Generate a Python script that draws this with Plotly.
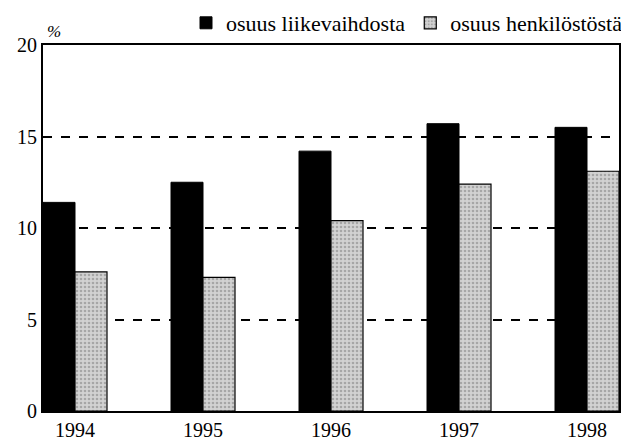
import plotly.graph_objects as go

years = ["1994", "1995", "1996", "1997", "1998"]
liikevaihto = [11.4, 12.5, 14.2, 15.7, 15.5]
henkilosto = [7.6, 7.3, 10.4, 12.4, 13.1]
y_ticks = [0, 5, 10, 15, 20]

SERIF = "Liberation Serif"
font = dict(family=SERIF, size=20, color="black")

# page body has an 8px margin; figure sized to fill the rest of the window
W, H = 621, 432

fig = go.Figure()
fig.add_trace(go.Bar(
    x=years, y=liikevaihto, name="osuus liikevaihdosta",
    marker=dict(color="black", line=dict(color="black", width=1)),
))
fig.add_trace(go.Bar(
    x=years, y=henkilosto, name="osuus henkilöstöstä",
    marker=dict(color="#c8c8c8", line=dict(color="black", width=1.2),
                pattern=dict(shape=".", fgcolor="#7a7a7a", bgcolor="#d2d2d2", size=4, solidity=0.35)),
))

fig.update_layout(
    width=W, height=H,
    margin=dict(l=35, r=10, t=37, b=29, autoexpand=False),
    paper_bgcolor="white", plot_bgcolor="white",
    font=font,
    barmode="group", bargap=0.5, bargroupgap=0,
    showlegend=True,
    legend=dict(orientation="h", x=620 / W, xanchor="right", xref="container",
                y=1 - 15 / H, yanchor="middle", yref="container",
                font=dict(family=SERIF, size=22, color="black"),
                itemwidth=30, tracegroupgap=0, bgcolor="rgba(0,0,0,0)"),
    xaxis=dict(type="category", range=[-0.25, 4.25], showline=True, linecolor="black",
               linewidth=2, mirror=True, showgrid=False, ticks="", tickfont=font,
               automargin=False),
    yaxis=dict(range=[0, 20], tickvals=y_ticks, showline=True, linecolor="black",
               linewidth=2, mirror=True, showgrid=True, gridcolor="black", gridwidth=2,
               griddash="dash", zeroline=False, ticks="", tickfont=font, automargin=False),
    annotations=[dict(text="<i>%</i>", xref="paper", yref="paper", x=0.0, y=1.0,
                      xanchor="left", yanchor="bottom", xshift=2, yshift=2, showarrow=False,
                      font=dict(family=SERIF, size=17, color="black"))],
)

fig.write_html("out.html")
